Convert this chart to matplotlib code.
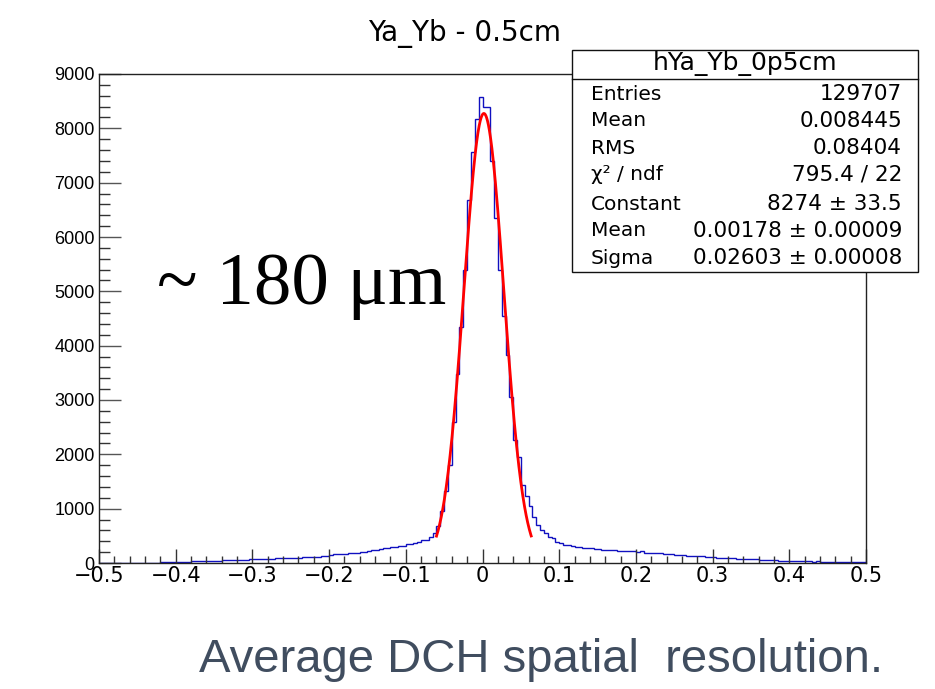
import numpy as np
import matplotlib
matplotlib.use("Agg")
import matplotlib.pyplot as plt
from matplotlib.ticker import MultipleLocator

# ---------------- data ----------------
bin_low, bin_high, n_bins = -0.5, 0.5, 200
counts = [
    0, 0, 0, 0, 1, 3, 4, 2, 1, 2,
    2, 3, 2, 3, 4, 5, 18, 20, 22, 21,
    24, 22, 25, 27, 30, 34, 36, 33, 38, 40,
    42, 45, 52, 50, 55, 54, 58, 62, 60, 66,
    68, 72, 70, 75, 80, 78, 85, 84, 88, 92,
    96, 98, 95, 105, 110, 112, 118, 115, 125, 135,
    150, 158, 160, 165, 172, 178, 182, 188, 200, 210,
    222, 235, 248, 255, 270, 282, 290, 298, 305, 318,
    345, 352, 360, 395, 425, 430, 470, 560, 680, 960,
    1330, 1800, 2600, 3480, 4350, 5400, 6680, 7570, 8170, 8580,
    8400, 8400, 7400, 6350, 5390, 4550, 3830, 3060, 2260, 1950,
    1435, 1230, 1040, 840, 700, 600, 555, 485, 455, 392,
    365, 335, 330, 310, 300, 290, 282, 285, 270, 262,
    250, 240, 242, 236, 238, 226, 228, 220, 224, 212,
    210, 215, 185, 182, 186, 190, 180, 165, 158, 162,
    150, 140, 145, 138, 130, 132, 125, 120, 112, 110,
    105, 96, 100, 92, 85, 88, 80, 72, 76, 70,
    68, 72, 60, 62, 55, 50, 52, 44, 40, 42,
    38, 35, 36, 30, 32, 28, 26, 30, 24, 22,
    25, 20, 18, 22, 17, 16, 15, 14, 16, 13,
]
# Gaussian fit parameters shown in the stats box
fit_constant, fit_mean, fit_sigma = 8274.0, 0.00178, 0.02603
fit_range = (-0.060, 0.0635)

title = "Ya_Yb - 0.5cm"
stats_name = "hYa_Yb_0p5cm"
stats_labels = ["Entries", "Mean", "RMS", "\u03c7\u00b2 / ndf", "Constant", "Mean", "Sigma"]
stats_values = ["129707", "0.008445", "0.08404", "795.4 / 22",
                "8274 \u00b1 33.5", "0.00178 \u00b1 0.00009", "0.02603 \u00b1 0.00008"]
annotation = "~ 180 \u03bcm"
caption = "Average DCH spatial  resolution."

# ---------------- figure ----------------
W, H = 935, 689
fig = plt.figure(figsize=(W / 100, H / 100), dpi=100)
ax = fig.add_axes([99 / W, 1 - 563 / H, (866 - 99) / W, (563 - 74) / H])

edges = np.linspace(bin_low, bin_high, n_bins + 1)
ax.stairs(counts, edges, color="#1010c0", lw=1.0, baseline=None)

xf = np.linspace(fit_range[0], fit_range[1], 300)
yf = fit_constant * np.exp(-0.5 * ((xf - fit_mean) / fit_sigma) ** 2)
ax.plot(xf, yf, color="#ff0000", lw=2.0)

ax.set_xlim(bin_low, bin_high)
ax.set_ylim(0, 9000)

ax.xaxis.set_major_locator(MultipleLocator(0.1))
ax.xaxis.set_minor_locator(MultipleLocator(0.02))
ax.yaxis.set_major_locator(MultipleLocator(1000))
ax.yaxis.set_minor_locator(MultipleLocator(200))

ax.tick_params(axis="x", which="major", direction="in", length=10, width=1.0,
               color="#333333", labelsize=15, pad=2, top=False)
ax.tick_params(axis="x", which="minor", direction="in", length=5, width=1.0,
               color="#333333", top=False)
ax.tick_params(axis="y", which="major", direction="in", length=16, width=1.0,
               color="#555555", labelsize=13, pad=3, right=False)
ax.tick_params(axis="y", which="minor", direction="in", length=8, width=1.0,
               color="#333333", right=False)

ax.xaxis.set_major_formatter(matplotlib.ticker.FuncFormatter(
    lambda v, p: ("\u2212" if v < -1e-9 else "") + ("%g" % abs(round(v, 3)))))
ax.yaxis.set_major_formatter(matplotlib.ticker.FuncFormatter(lambda v, p: "%d" % v))
for lab in ax.get_xticklabels():
    lab.set_family("DejaVu Sans")
for lab in ax.get_yticklabels():
    lab.set_family("Liberation Sans")

for s in ax.spines.values():
    s.set_linewidth(1.0)
    s.set_color("#222222")

# title
fig.text(465 / W, 1 - 33 / H, title, ha="center", va="center",
         fontsize=20, family="DejaVu Sans")

# stats box
bx0, bx1, by0, by1 = 572, 918, 50, 272
box = plt.Rectangle((bx0 / W, 1 - by1 / H), (bx1 - bx0) / W, (by1 - by0) / H,
                    transform=fig.transFigure, facecolor="white",
                    edgecolor="#111111", lw=1.0, zorder=5)
fig.add_artist(box)
fig.add_artist(plt.Line2D([bx0 / W, bx1 / W], [1 - 79 / H, 1 - 79 / H],
                          transform=fig.transFigure, color="#111111", lw=1.0, zorder=6))
fig.text((bx0 + bx1) / 2 / W, 1 - 64 / H, stats_name, ha="center", va="center",
         fontsize=18, family="DejaVu Sans", zorder=7)
row_y = [94, 121, 148, 175, 204, 231, 258]
for yy, lab, val in zip(row_y, stats_labels, stats_values):
    fig.text(591 / W, 1 - yy / H, lab, ha="left", va="center",
             fontsize=14.5, family="DejaVu Sans", zorder=7)
    fig.text(902 / W, 1 - yy / H, val, ha="right", va="center",
             fontsize=15.5, family="DejaVu Sans", zorder=7)

# big annotation
fig.text(302 / W, 1 - 286 / H, annotation, ha="center", va="center",
         fontsize=54, family="Liberation Serif")

# caption
fig.text(541 / W, 1 - 660 / H, caption, ha="center", va="center",
         fontsize=34, family="Liberation Sans", color="#404d5f")

fig.savefig("out.png", dpi=100)
